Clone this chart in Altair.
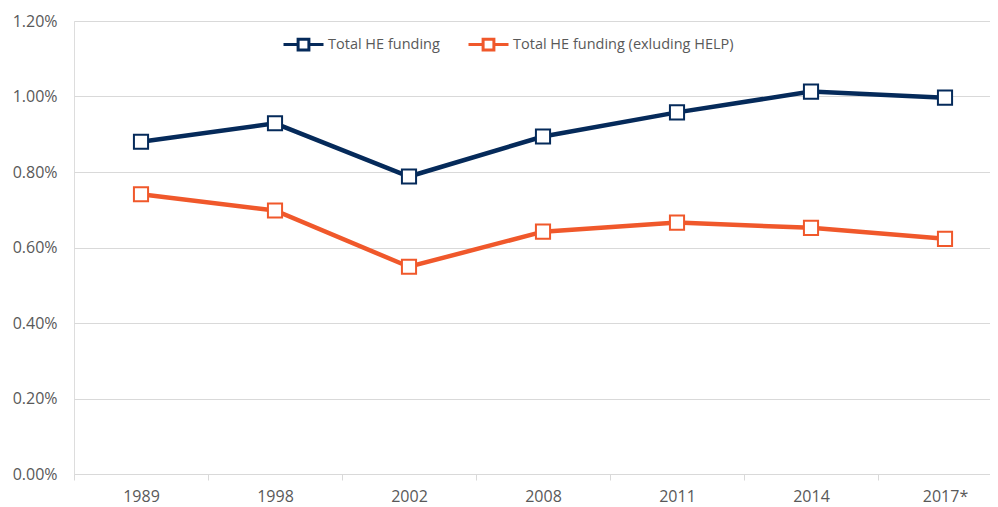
import altair as alt
import pandas as pd

years = ["1989", "1998", "2002", "2008", "2011", "2014", "2017*"]
series_names = ["Total HE funding", "Total HE funding (exluding HELP)"]
total_he = [0.00880, 0.00929, 0.00788, 0.00894, 0.00958, 0.01013, 0.00997]
excl_help = [0.00741, 0.00698, 0.00549, 0.00642, 0.00666, 0.00652, 0.00623]
colors = ["#052A5A", "#F0582B"]
y_ticks = [0.0, 0.002, 0.004, 0.006, 0.008, 0.010, 0.012]

rows = []
for name, vals in zip(series_names, [total_he, excl_help]):
    for i, (yr, v) in enumerate(zip(years, vals)):
        rows.append({"idx": i, "year": yr, "series": name, "value": v})
df = pd.DataFrame(rows)

FONT = "Open Sans"
W = 916
STEP = 134  # one category band; the last band runs past the right edge as in the source
label_expr = "[" + ",".join("'" + y + "'" for y in years) + "][datum.value]"

x_enc = alt.X(
    "idx:Q",
    title=None,
    scale=alt.Scale(domain=[-0.5, -0.5 + W / STEP], nice=False, zero=False),
    axis=alt.Axis(
        values=list(range(len(years))),
        labelExpr=label_expr,
        domain=False,
        grid=False,
        ticks=True,
        tickOffset=-STEP / 2,
        labelOffset=STEP / 2,
        tickSize=6,
        tickColor="#D9D9D9",
        tickWidth=1,
        labelAngle=0,
        labelPadding=8,
        labelFont=FONT,
        labelFontSize=16,
        labelColor="#595959",
        labelFlush=False,
        labelOverlap=False,
    ),
)
y_enc = alt.Y(
    "value:Q",
    title=None,
    scale=alt.Scale(domain=[0, 0.012], nice=False),
    axis=alt.Axis(
        values=y_ticks,
        format=".2%",
        domain=False,
        ticks=False,
        grid=True,
        gridColor="#D9D9D9",
        gridWidth=1.2,
        labelPadding=17,
        labelFont=FONT,
        labelFontSize=16,
        labelColor="#595959",
    ),
)
legend = alt.Legend(
    title=None,
    orient="none",
    legendX=208,
    legendY=2,
    direction="horizontal",
    symbolType="M-1,0H-0.27M0.27,0H1M-0.27,-0.27H0.27V0.27H-0.27Z",
    symbolSize=1600,
    symbolStrokeWidth=3,
    symbolFillColor="white",
    labelFont=FONT,
    labelFontSize=14.5,
    labelColor="#595959",
    labelOffset=3,
    labelLimit=0,
    columnPadding=22,
)
stroke_enc = alt.Stroke(
    "series:N",
    sort=series_names,
    scale=alt.Scale(domain=series_names, range=colors),
    legend=legend,
)

lines = alt.Chart(df).mark_line(strokeWidth=4.5).encode(
    x=x_enc, y=y_enc, stroke=stroke_enc, detail="series:N", order="idx:Q",
)
points = alt.Chart(df).mark_point(
    shape="square", filled=True, fill="white", size=200, strokeWidth=2, opacity=1
).encode(
    x=x_enc, y=y_enc, stroke=stroke_enc,
)

chart = (
    alt.layer(lines, points)
    .properties(
        width=W,
        height=453,
        autosize=alt.AutoSizeParams(type="none"),
        padding={"left": 66, "top": 13, "right": 0, "bottom": 30},
    )
    .configure_view(stroke=None)
    .configure(background="white")
)

chart.save("out.html", embed_options={"renderer": "svg", "actions": False})
